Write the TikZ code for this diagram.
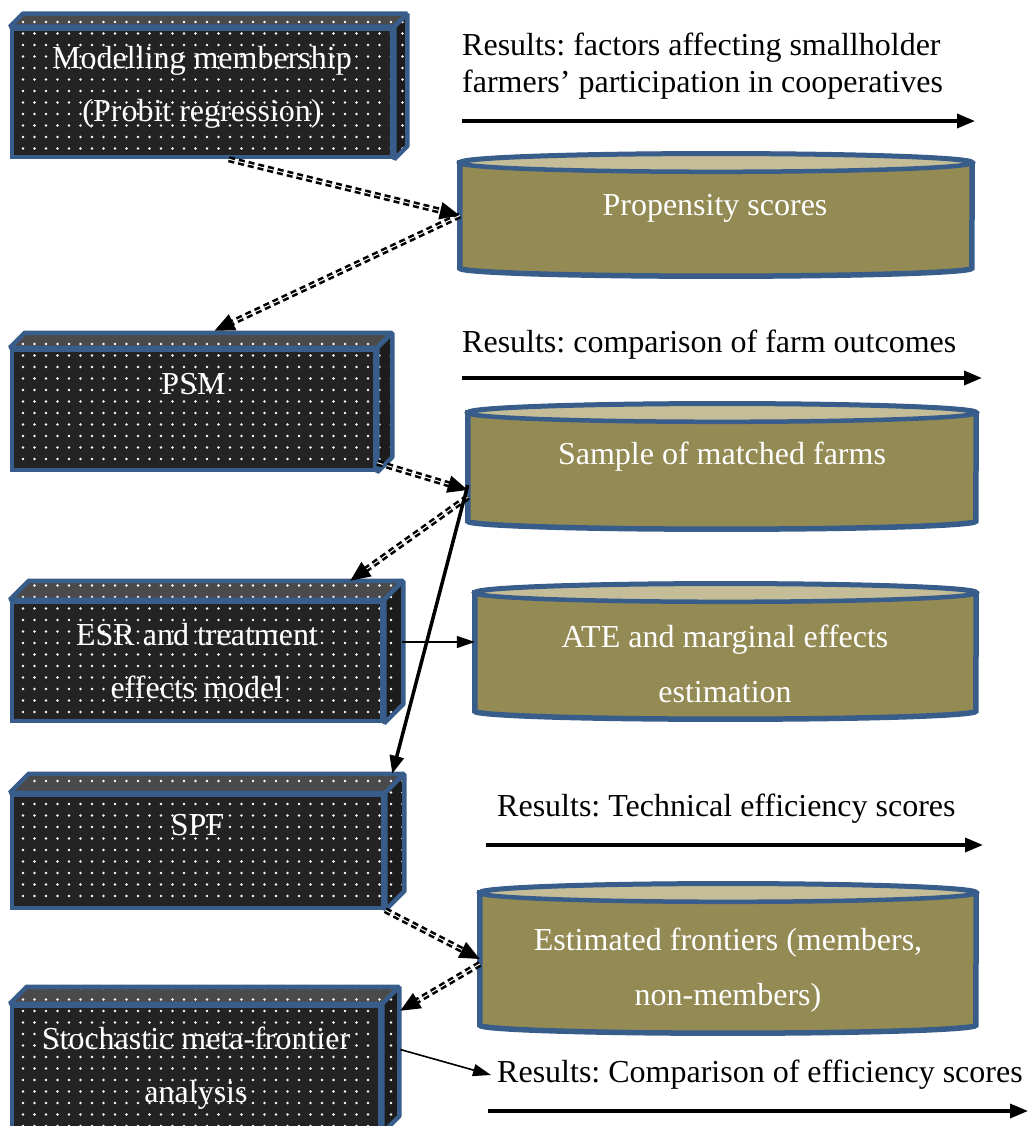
\documentclass[tikz,border=0pt]{standalone}
\usepackage{fontspec}
\setmainfont{Liberation Serif}
\usetikzlibrary{arrows.meta,patterns.meta,backgrounds}
\frenchspacing
\definecolor{cB}{HTML}{385D8A}
\definecolor{cF}{HTML}{232323}
\definecolor{cT}{HTML}{4A4A4A}
\definecolor{cS}{HTML}{1C1C1C}
\definecolor{cO}{HTML}{948A54}
\definecolor{cL}{HTML}{C4BD97}
\tikzset{mybox/.style={
  shape=rectangle,
  draw=cB,
  line width=4.5pt,
  preaction={fill=cF},
  pattern={Dots[distance=11.5pt,radius=1.3pt]},
  pattern color=white,
  inner sep=0pt,
  align=center,
  text=white,
  font=\fontsize{32}{53}\selectfont,
  }
}
\tikzset{myface/.style={
  draw=cB,
  line width=4.5pt,
  line join=bevel,
  preaction={fill=#1},
  pattern={Dots[distance=11.5pt,radius=1.3pt]},
  pattern color=white,
  }
}
\tikzset{mycyl/.style={
  shape=rectangle,
  inner sep=0pt,
  }
}
\tikzset{mybody/.style={draw=cB, line width=5.5pt, fill=cO}}
\tikzset{mylid/.style={draw=cB, line width=4.5pt, fill=cL}}
\tikzset{mytext/.style={
  text=white,
  align=center,
  font=\fontsize{32}{55}\selectfont,
  }
}
\tikzset{myresult/.style={
  anchor=west,
  inner sep=0pt,
  align=left,
  font=\fontsize{32}{37}\selectfont,
  }
}
\tikzset{mydash/.style={
  line width=2.6pt,
  double=white,
  double distance=1pt,
  dash pattern=on 6pt off 4pt,
  -{Triangle[length=20pt,width=17pt]},
  }
}
\tikzset{mythick/.style={line width=3.5pt, -{Triangle[length=18pt,width=14pt]}}}
\tikzset{mythin/.style={line width=1.6pt, -{Triangle[length=18pt,width=12pt]}}}

\begin{document}
\begin{tikzpicture}[x=1pt,y=-1pt]
  \useasboundingbox (0,0) rectangle (1031,1126);

  % boxes on the left
  \node [mybox, minimum width=380pt, minimum height=128pt, text depth=19pt] (b1) at (202,93) {Modelling membership\\(Probit regression)};
  \node [mybox, minimum width=363pt, minimum height=120pt] (b2) at (193.5,410) {PSM\\\mbox{}};
  \node [mybox, minimum width=370pt, minimum height=119pt] (b3) at (197,661.5) {ESR and treatment\\effects model};
  \node [mybox, minimum width=371pt, minimum height=113pt] (b4) at (197.5,851.5) {SPF\\\mbox{}};
  \node [mybox, minimum width=368pt, minimum height=125pt] (b5) at (196,1068.5) {Stochastic meta-frontier\\analysis};

  % cylinders on the right
  \node [mycyl, minimum width=512pt, minimum height=105pt] (c1) at (716,215.5) {};
  \node [mycyl, minimum width=508pt, minimum height=108pt] (c2) at (722,467) {};
  \node [mycyl, minimum width=501pt, minimum height=118pt] (c3) at (725.5,652) {};
  \node [mycyl, minimum width=496pt, minimum height=132pt] (c4) at (728,959) {};
  \node [mytext] (t1) at (715,208) {Propensity scores};
  \node [mytext] (t2) at (722,457) {Sample of matched farms};
  \node [mytext] (t3) at (725,663.5) {ATE and marginal effects\\estimation};
  \node [mytext] (t4) at (728,970) {Estimated frontiers (members,\\non-members)};

  \begin{scope}[on background layer]
    \foreach \b/\d in {b1/13pt, b2/15pt, b3/19pt, b4/19pt, b5/17pt} {
      \path [myface=cT] (\b.north west) -- ++(\d,\d) -- ([shift={(\d,\d)}]\b.north east) -- (\b.north east) -- cycle;
      \path [myface=cS] (\b.north east) -- ++(\d,\d) -- ([shift={(\d,\d)}]\b.south east) -- (\b.south east) -- cycle;
    }
    \foreach \c/\r in {c1/256pt, c2/254pt, c3/250.5pt, c4/248pt} {
      \path [mybody] (\c.north west) -- (\c.south west)
        arc [start angle=180, end angle=360, x radius=\r, y radius=8pt]
        -- (\c.north east) arc [start angle=0, end angle=180, x radius=\r, y radius=9pt] -- cycle;
      \path [mylid] (\c.north) ellipse [x radius=\r, y radius=9pt];
    }
  \end{scope}

  % results
  \node [myresult] (r1) at (462,66) {Results: factors affecting smallholder\\farmers’ participation in cooperatives};
  \node [myresult] (r2) at (462,345) {Results: comparison of farm outcomes};
  \node [myresult] (r3) at (497,809) {Results: Technical efficiency scores};
  \node [myresult] (r4) at (497,1075) {Results: Comparison of efficiency scores};
  \coordinate (r1a) at (462,121);
  \coordinate (r1b) at (975,121);
  \coordinate (r2a) at (462,378);
  \coordinate (r2b) at (982,378);
  \coordinate (r3a) at (486,845);
  \coordinate (r3b) at (983,845);
  \coordinate (r4a) at (488,1111);
  \coordinate (r4b) at (1028,1111);
  \draw [mythick] (r1a) -- (r1b);
  \draw [mythick] (r2a) -- (r2b);
  \draw [mythick] (r3a) -- (r3b);
  \draw [mythick] (r4a) -- (r4b);

  % connectors
  \draw [mydash] (b1.-68) -- (c1.west);
  \draw [mydash] (c1.west) -- ([shift={(21pt,17pt)}]b2.north);
  \draw [mydash] (b2.-16) -- ([yshift=-23pt]c2.west);
  \draw [mydash] ([yshift=-30pt]c2.west) -- ([shift={(-34pt,19pt)}]b3.north east);
  \draw [mythick] ([yshift=-18pt]c2.west) -- ([shift={(7pt,19pt)}]b4.north east);
  \draw [mythin] ([shift={(18pt,19.5pt)}]b3.east) -- ([yshift=10pt]c3.west);
  \draw [mydash] (b4.south east) -- (c4.west);
  \draw [mydash] ([yshift=-5pt]c4.west) -- ([shift={(18pt,-7pt)}]b5.north east);
  \draw [mythin] ([shift={(18pt,19pt)}]b5.east) -- ([xshift=-6pt]r4.west);
\end{tikzpicture}
\end{document}
